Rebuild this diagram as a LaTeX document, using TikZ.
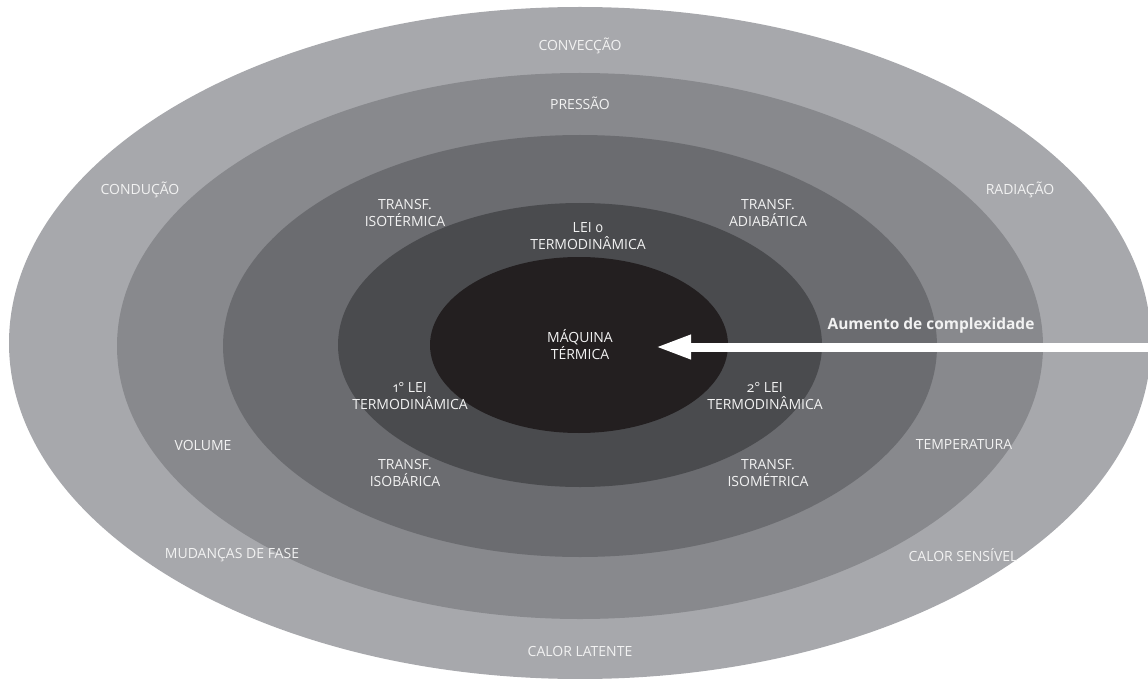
\documentclass[tikz,border=0pt]{standalone}
\usepackage{fontspec}
\setmainfont[Numbers=OldStyle]{Open Sans}
\usetikzlibrary{arrows.meta}

\definecolor{ringa}{HTML}{A7A8AC}
\definecolor{ringb}{HTML}{88898D}
\definecolor{ringc}{HTML}{6B6C70}
\definecolor{ringd}{HTML}{4A4B4E}
\definecolor{core}{HTML}{231F20}
\definecolor{txt}{HTML}{F2F2F2}

\begin{document}
\begin{tikzpicture}[x=1pt, y=-1pt, >={Triangle[length=36pt,width=22pt]},
    lbl/.style={text=txt, font=\fontsize{14}{17}\selectfont, align=center, inner sep=0pt}]
    \useasboundingbox (0,0) rectangle (1148,679);

    % Ellipses, outer to inner
    \fill [ringa] (580,343) ellipse [x radius=571pt, y radius=336pt];
    \fill [ringb] (580,346) ellipse [x radius=463pt, y radius=273pt];
    \fill [ringc] (580,346) ellipse [x radius=357pt, y radius=211pt];
    \fill [ringd] (580,345) ellipse [x radius=242pt, y radius=142pt];
    \fill [core]  (579,345) ellipse [x radius=149pt, y radius=88pt];

    % Labels {outer ring}
    \node [lbl] (conv)  at (580,46)  {CONVECÇÃO};
    \node [lbl] (cond)  at (140,190) {CONDUÇÃO};
    \node [lbl] (rad)   at (1020,190) {RADIAÇÃO};
    \node [lbl] (mud)   at (232,555) {MUDANÇAS DE FASE};
    \node [lbl] (sens)  at (963,555) {CALOR SENSÍVEL};
    \node [lbl] (lat)   at (580,651) {CALOR LATENTE};

    % Labels {second ring}
    \node [lbl] (press) at (580,103) {PRESSÃO};
    \node [lbl] (vol)   at (203,445) {VOLUME};
    \node [lbl] (temp)  at (964,445) {TEMPERATURA};

    % Labels {third ring}
    \node [lbl] (isot)  at (405,213) {TRANSF.\\ISOTÉRMICA};
    \node [lbl] (adia)  at (768,213) {TRANSF.\\ADIABÁTICA};
    \node [lbl] (isob)  at (405,473) {TRANSF.\\ISOBÁRICA};
    \node [lbl] (isom)  at (768,473) {TRANSF.\\ISOMÉTRICA};

    % Labels {fourth ring}
    \node [lbl] (lei0)  at (588,236) {LEI 0\\TERMODINÂMICA};
    \node [lbl] (lei1)  at (410,396) {1° LEI\\TERMODINÂMICA};
    \node [lbl] (lei2)  at (765,396) {2° LEI\\TERMODINÂMICA};

    % Core
    \node [lbl] (maq)   at (580,345) {MÁQUINA\\TÉRMICA};

    % Arrow
    \coordinate (start) at (1148,347);
    \coordinate (tip)   at (655,347);
    \draw [->, white, line width=9pt] (start) -- (tip);
    \node [lbl, font=\fontsize{15.5}{18}\selectfont\bfseries] (aum) at (931,325) {Aumento de complexidade};

\end{tikzpicture}
\end{document}
